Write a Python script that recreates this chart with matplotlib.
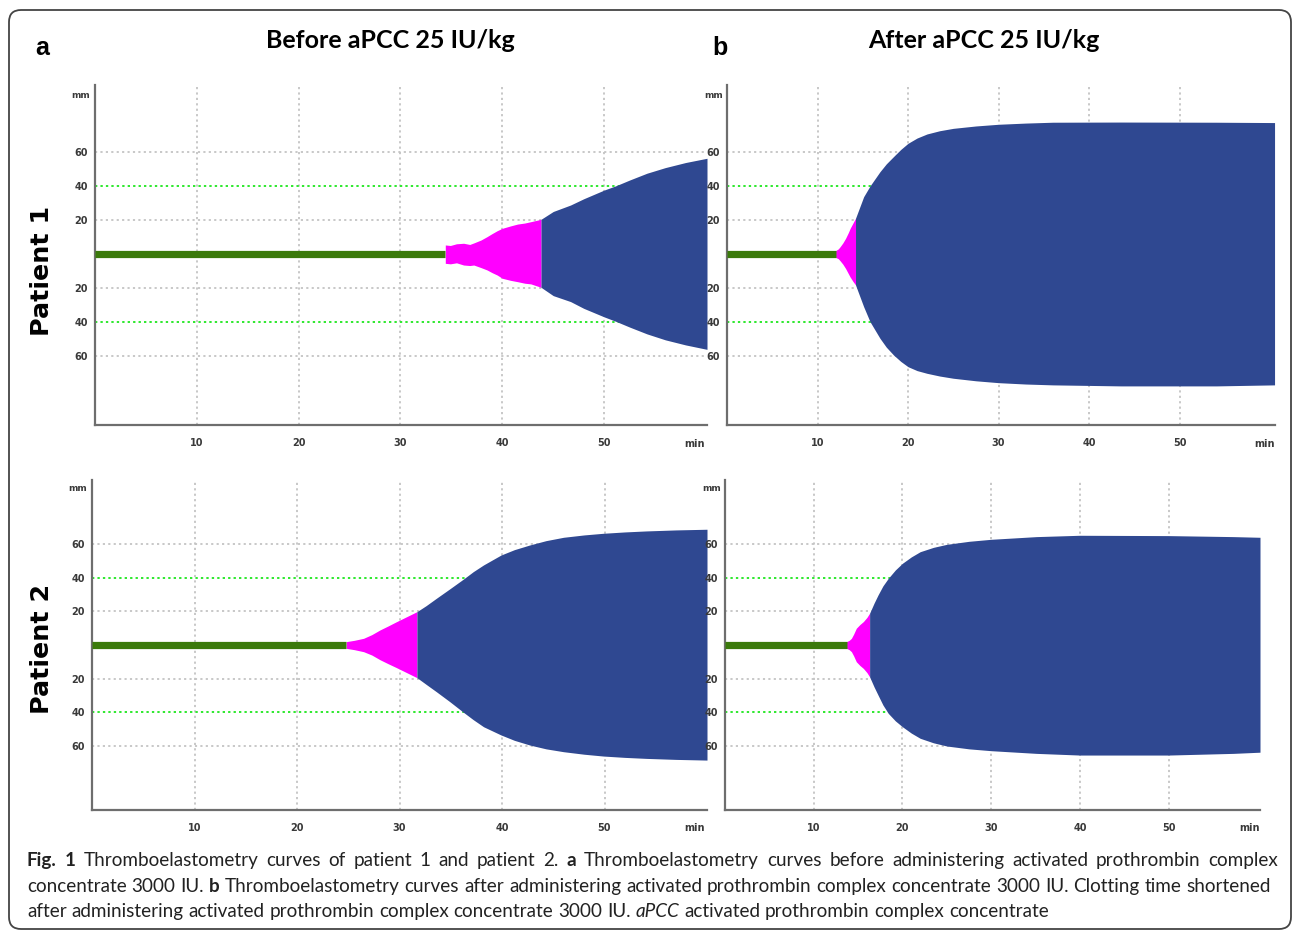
import numpy as np
import matplotlib
matplotlib.use('Agg')
import matplotlib.pyplot as plt
import matplotlib.transforms as mtransforms
from matplotlib.patches import FancyBboxPatch

# --- data (time in min, amplitude in mm) ---
minute_ticks = [10, 20, 30, 40, 50]
amp_ticks = [-60, -40, -20, 20, 40, 60]
amp_labels = ['60', '40', '20', '20', '40', '60']

# patient 1, before aPCC
p1b_ct = 34.4
p1b_pink_t = [34.4, 34.9, 35.5, 36.2, 36.8, 37.2, 37.9, 38.5, 39.0, 39.5, 40.0, 40.8, 41.5, 42.2, 42.8, 43.8]
p1b_pink_up = [5.3, 5.0, 6.0, 6.3, 5.6, 6.5, 8.2, 10.2, 12.0, 13.7, 15.1, 16.5, 17.6, 18.2, 19.0, 20.4]
p1b_pink_lo = [5.5, 5.8, 5.2, 6.5, 6.8, 6.5, 8.0, 9.4, 11.0, 12.4, 14.3, 15.5, 16.3, 17.2, 17.6, 19.6]
p1b_blue_t = [43.8, 45.0, 46.7, 48.0, 50.0, 51.1, 52.5, 54.2, 56.0, 58.0, 60.1]
p1b_blue_up = [20.4, 25.0, 28.8, 32.5, 37.6, 40.0, 43.5, 47.5, 50.8, 53.8, 56.3]
p1b_blue_lo = [19.6, 24.5, 28.0, 32.0, 37.0, 39.5, 43.0, 47.0, 50.5, 53.5, 56.1]

# patient 1, after aPCC
p1a_ct = 12.0
p1a_pink_t = [12.0, 12.3, 12.5, 12.8, 13.1, 13.4, 13.6, 13.9, 14.2]
p1a_pink_up = [2.0, 3.0, 4.3, 6.5, 9.2, 12.5, 15.0, 18.0, 21.0]
p1a_pink_lo = [2.0, 2.8, 4.0, 6.0, 8.5, 11.5, 13.5, 16.0, 18.2]
p1a_blue_t = [14.2, 15.1, 15.8, 16.9, 17.6, 18.4, 19.2, 20.0, 21.0, 22.1, 23.5, 25.0, 27.5,
              30.0, 33.0, 36.0, 43.5, 54.1, 60.5]
p1a_blue_up = [21.0, 33.7, 40.0, 48.4, 53.0, 57.3, 61.5, 65.1, 68.2, 70.6, 72.5, 73.9, 75.3,
               76.3, 77.0, 77.5, 77.6, 77.5, 77.3]
p1a_blue_lo = [18.2, 31.0, 39.8, 49.6, 54.8, 59.4, 63.2, 66.3, 68.6, 70.2, 71.8, 73.1, 74.6,
               75.7, 76.5, 77.0, 77.6, 77.6, 77.0]

# patient 2, before aPCC
p2b_ct = 24.8
p2b_pink_t = [24.8, 25.6, 26.5, 27.3, 28.1, 28.9, 29.7, 30.7, 31.7]
p2b_pink_up = [2.0, 2.8, 4.0, 6.2, 9.0, 11.4, 13.9, 16.9, 19.9]
p2b_pink_lo = [2.0, 2.8, 4.0, 6.0, 8.8, 11.2, 13.5, 16.5, 19.5]
p2b_blue_t = [31.7, 32.6, 33.6, 34.9, 36.2, 37.2, 38.2, 39.9, 41.2, 42.7, 44.3, 46.0, 48.0,
              49.9, 52.0, 54.1, 57.0, 60.0]
p2b_blue_up = [19.9, 23.5, 27.9, 33.5, 39.2, 43.8, 47.8, 53.7, 56.9, 59.7, 62.3, 64.3, 65.7,
               66.7, 67.5, 68.1, 68.7, 69.1]
p2b_blue_lo = [19.5, 23.5, 27.9, 33.8, 40.0, 44.6, 48.8, 53.7, 56.9, 59.7, 62.0, 63.7, 65.2,
               66.3, 67.1, 67.7, 68.3, 68.7]

# patient 2, after aPCC
p2a_ct = 13.7
p2a_pink_t = [13.7, 14.0, 14.25, 14.5, 14.8, 15.2, 15.6, 16.0, 16.3]
p2a_pink_up = [2.0, 2.8, 4.0, 6.5, 10.0, 12.2, 14.0, 16.5, 19.0]
p2a_pink_lo = [2.0, 2.8, 4.0, 6.5, 10.0, 12.2, 14.0, 16.5, 19.0]
p2a_blue_t = [16.3, 16.8, 17.25, 17.8, 18.4, 19.2, 20.0, 21.0, 22.0, 23.5, 25.0, 27.5, 30.0,
              35.1, 40.0, 50.0, 57.3, 60.3]
p2a_blue_up = [19.0, 25.0, 29.9, 35.3, 39.8, 44.8, 48.8, 52.6, 55.7, 58.3, 60.1, 61.9, 63.1,
               64.7, 65.5, 65.3, 64.7, 64.3]
p2a_blue_lo = [19.0, 25.0, 29.9, 35.8, 40.8, 45.3, 48.8, 52.6, 55.7, 58.4, 60.3, 62.0, 63.1,
               64.7, 65.7, 65.7, 64.7, 64.0]

W, H = 1293, 931
BLUE = '#2f4891'
PINK = '#ff00ff'
GREEN = '#3b7a0b'
LIME = '#2ee82e'
GRID = '#c4c4c4'


def px_rect(x0, y0, x1, y1):
    # pixel box (top-left origin) -> figure fraction rect
    return [x0 / W, 1 - y1 / H, (x1 - x0) / W, (y1 - y0) / H]


def draw_panel(ax, ct, pink_t, pink_up, pink_lo, blue_t, blue_up, blue_lo, xmax, ylim):
    ax.set_xlim(0, xmax)
    ax.set_ylim(*ylim)
    for s in ['top', 'right']:
        ax.spines[s].set_visible(False)
    for s in ['left', 'bottom']:
        ax.spines[s].set_color('#6e6e6e')
        ax.spines[s].set_linewidth(1.6)
    ax.set_xticks(minute_ticks)
    ax.set_xticklabels([str(m) for m in minute_ticks])
    ax.set_yticks(amp_ticks)
    ax.set_yticklabels(amp_labels)
    ax.tick_params(length=0, labelsize=7, colors='#3a3a3a')
    ax.tick_params(axis='x', pad=9.5)
    ax.tick_params(axis='y', pad=5)
    for lab in ax.get_xticklabels() + ax.get_yticklabels():
        lab.set_fontweight('bold')

    for m in minute_ticks:
        ax.axvline(m, color=GRID, lw=1.3, ls=(0, (1.2, 1.8)), zorder=0)
    for a in [-60, -20, 20, 60]:
        ax.axhline(a, color=GRID, lw=1.3, ls=(0, (1.2, 1.8)), zorder=0)
    for a in [-40, 40]:
        ax.axhline(a, color=LIME, lw=1.4, ls=(0, (1.2, 1.6)), zorder=0)

    ax.plot([0, ct], [0, 0], color=GREEN, lw=5.2, solid_capstyle='butt', zorder=3)
    ax.fill_between(pink_t, -np.array(pink_lo), pink_up, color=PINK, lw=0, zorder=2)
    ax.fill_between(blue_t, -np.array(blue_lo), blue_up, color=BLUE, lw=0, zorder=2)

    tr = mtransforms.blended_transform_factory(ax.transAxes, ax.transData)
    ax.text(-0.008, 93.5, 'mm', transform=tr, ha='right', va='center',
            fontsize=6.5, color='#3a3a3a', fontweight='bold')
    ax.text(0.98, -0.055, 'min', transform=ax.transAxes, ha='center', va='center',
            fontsize=7, color='#3a3a3a', fontweight='bold')


fig = plt.figure(figsize=(W / 100, H / 100), dpi=100)

ax1 = fig.add_axes(px_rect(95, 85, 707, 425))
draw_panel(ax1, p1b_ct, p1b_pink_t, p1b_pink_up, p1b_pink_lo,
           p1b_blue_t, p1b_blue_up, p1b_blue_lo, 60.1, (-100.6, 99.4))
ax2 = fig.add_axes(px_rect(727, 85, 1275, 425))
draw_panel(ax2, p1a_ct, p1a_pink_t, p1a_pink_up, p1a_pink_lo,
           p1a_blue_t, p1a_blue_up, p1a_blue_lo, 60.55, (-100.6, 99.4))
ax3 = fig.add_axes(px_rect(92, 480, 707, 810))
draw_panel(ax3, p2b_ct, p2b_pink_t, p2b_pink_up, p2b_pink_lo,
           p2b_blue_t, p2b_blue_up, p2b_blue_lo, 60.0, (-98.5, 98.5))
ax4 = fig.add_axes(px_rect(725, 480, 1260, 810))
draw_panel(ax4, p2a_ct, p2a_pink_t, p2a_pink_up, p2a_pink_lo,
           p2a_blue_t, p2a_blue_up, p2a_blue_lo, 60.3, (-98.5, 98.5))

# headings
fig.text(42 / W, 1 - 48 / H, 'a', fontsize=18, fontweight='bold',
         family='Liberation Sans', ha='center', va='center')
fig.text(720 / W, 1 - 48 / H, 'b', fontsize=18, fontweight='bold',
         family='Liberation Sans', ha='center', va='center')
fig.text(390 / W, 1 - 40 / H, 'Before aPCC 25 IU/kg', fontsize=18, fontweight='bold',
         family='Lato', ha='center', va='center')
fig.text(984 / W, 1 - 40 / H, 'After aPCC 25 IU/kg', fontsize=18, fontweight='bold',
         family='Lato', ha='center', va='center')
fig.text(42 / W, 1 - 271 / H, 'Patient 1', fontsize=18.3, fontweight='bold',
         family='DejaVu Sans', rotation=90, ha='center', va='center')
fig.text(42 / W, 1 - 649 / H, 'Patient 2', fontsize=18.3, fontweight='bold',
         family='DejaVu Sans', rotation=90, ha='center', va='center')

# caption with mixed bold / italic pieces; first two lines justified
caption = [
    [('Fig. 1', 'bold', 'normal'), ('Thromboelastometry curves of patient 1 and patient 2.', 'normal', 'normal'),
     ('a', 'bold', 'normal'), ('Thromboelastometry curves before administering activated prothrombin complex', 'normal', 'normal')],
    [('concentrate 3000 IU.', 'normal', 'normal'), ('b', 'bold', 'normal'),
     ('Thromboelastometry curves after administering activated prothrombin complex concentrate 3000 IU. Clotting time shortened', 'normal', 'normal')],
    [('after administering activated prothrombin complex concentrate 3000 IU.', 'normal', 'normal'),
     ('aPCC', 'normal', 'italic'), ('activated prothrombin complex concentrate', 'normal', 'normal')],
]
line_base = [866, 892, 917]
line_end = [1278, 1271, None]
cap_size = 13.6
cap_x0 = 27.0

renderer = fig.canvas.get_renderer()
probe1 = fig.text(0, 0, 'x x', fontsize=cap_size, family='Lato')
probe2 = fig.text(0, 0, 'x', fontsize=cap_size, family='Lato')
space_px = probe1.get_window_extent(renderer).width - 2 * probe2.get_window_extent(renderer).width
probe1.remove()
probe2.remove()

for parts, yy, x_end in zip(caption, line_base, line_end):
    words = []
    for text, weight, style in parts:
        for w in text.split(' '):
            t = fig.text(0, 1 - yy / H, w, fontsize=cap_size, family='Lato',
                         fontweight=weight, fontstyle=style, color='#222222',
                         ha='left', va='baseline')
            words.append((t, t.get_window_extent(renderer).width))
    total = sum(wd for _, wd in words)
    if x_end is None:
        gap = space_px
    else:
        gap = (x_end - cap_x0 - total) / (len(words) - 1)
    x = cap_x0
    for t, wd in words:
        t.set_x(x / W)
        x += wd + gap

# rounded frame around the whole figure
frame = FancyBboxPatch((0.09, 0.02), 12.82, 9.19, boxstyle='round,pad=0,rounding_size=0.12',
                       transform=fig.dpi_scale_trans, fill=False, edgecolor='#444444', lw=1.3)
fig.patches.append(frame)

fig.savefig('out.png', dpi=100)
